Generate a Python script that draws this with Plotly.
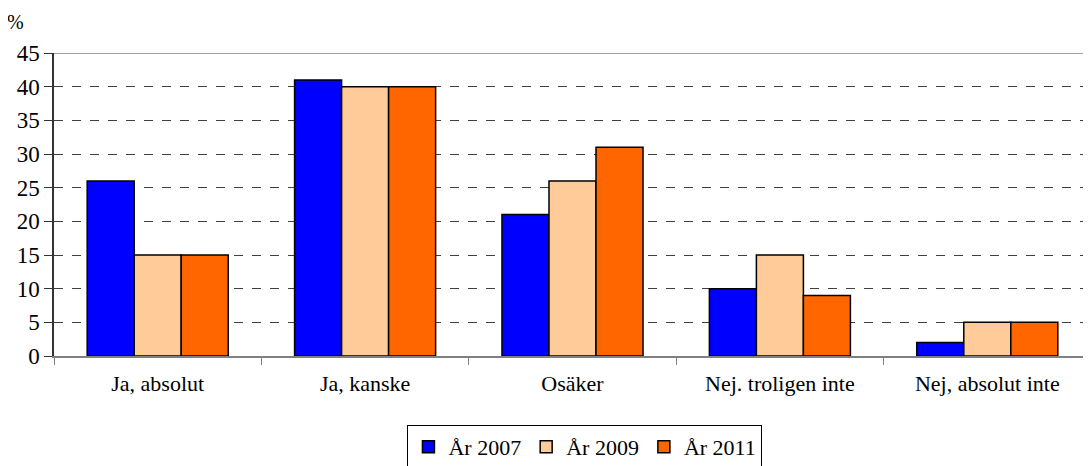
import plotly.graph_objects as go

categories = ["Ja, absolut", "Ja, kanske", "Osäker", "Nej. troligen inte", "Nej, absolut inte"]
years = ["År 2007", "År 2009", "År 2011"]
values_2007 = [26, 41, 21, 10, 2]
values_2009 = [15, 40, 26, 15, 5]
values_2011 = [15, 40, 31, 9, 5]
y_ticks = [0, 5, 10, 15, 20, 25, 30, 35, 40, 45]

colors = ["#0000FF", "#FFCC99", "#FF6600"]
series = [values_2007, values_2009, values_2011]

FONT = "Times New Roman, Liberation Serif, serif"

fig = go.Figure()
for name, vals, col in zip(years, series, colors):
    fig.add_trace(go.Bar(
        x=categories, y=vals, name=name,
        marker=dict(color=col, line=dict(color="black", width=1.5)),
    ))

# solid top border at 45
fig.add_shape(type="line", xref="paper", yref="y", x0=0, x1=1, y0=45, y1=45,
              line=dict(color="#808080", width=1.5))

fig.add_annotation(text="%", xref="paper", yref="paper", x=-0.0376, y=1.102,
                   xanchor="center", yanchor="middle", showarrow=False,
                   font=dict(family=FONT, size=20, color="black"))

# page has an 8px body margin, so the figure is sized and offset for it
fig.update_layout(
    width=1083, height=458,
    margin=dict(l=46, r=0, t=45, b=110, autoexpand=False),
    paper_bgcolor="white", plot_bgcolor="white",
    barmode="group", bargap=0.32, bargroupgap=0,
    font=dict(family=FONT, size=22, color="black"),
    showlegend=True,
    legend=dict(
        orientation="h", x=0.512, y=-0.3, xanchor="center", yanchor="middle",
        bordercolor="black", borderwidth=1, bgcolor="white",
        font=dict(family=FONT, size=22, color="black"),
        itemwidth=30, tracegroupgap=0,
    ),
)

fig.update_xaxes(
    showline=True, linecolor="#808080", linewidth=1.5,
    ticks="outside", tickson="boundaries", ticklen=7, tickcolor="#808080",
    tickfont=dict(family=FONT, size=22, color="black"),
    ticklabelstandoff=7,
    showgrid=False,
)

fig.update_yaxes(
    range=[0, 45], tickvals=y_ticks,
    showline=True, linecolor="#333333", linewidth=1.5,
    ticks="outside", ticklen=8, tickcolor="#333333",
    tickfont=dict(family=FONT, size=23, color="black"),
    showgrid=True, gridcolor="#404040", griddash="dash", gridwidth=1,
    zeroline=False,
)

fig.write_html("out.html")
